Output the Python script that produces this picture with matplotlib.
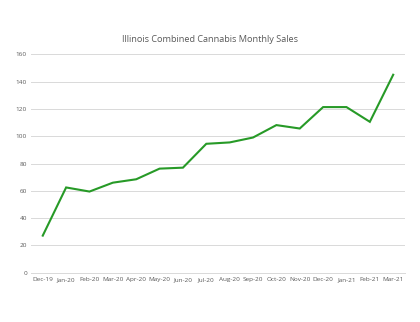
import matplotlib
matplotlib.use("Agg")
import matplotlib.pyplot as plt

months = ["Dec-19", "Jan-20", "Feb-20", "Mar-20", "Apr-20", "May-20", "Jun-20", "Jul-20",
          "Aug-20", "Sep-20", "Oct-20", "Nov-20", "Dec-20", "Jan-21", "Feb-21", "Mar-21"]
sales = [27.2, 62.5, 59.5, 66.0, 68.5, 76.3, 77.0, 94.5, 95.5, 99.1, 108.2, 105.7,
         121.4, 121.4, 110.6, 145.1]
yticks = [0, 20, 40, 60, 80, 100, 120, 140, 160]
title = "Illinois Combined Cannabis Monthly Sales"

plt.rcParams['font.family'] = ['Open Sans', 'DejaVu Sans']

fig = plt.figure(figsize=(4.2, 3.22), dpi=100)
ax = fig.add_axes([0.074, 0.153, 0.89, 0.678])
x = list(range(len(months)))
ax.plot(x, sales, color="#279a27", lw=1.5, solid_joinstyle="miter")
ax.set_xlim(-0.5, len(months) - 0.5)
ax.set_ylim(0, 160)
ax.set_yticks(yticks)
ax.set_xticks(x)
ax.set_xticklabels(months)
ax.tick_params(axis='both', length=0, labelsize=4.6, colors="#595959", pad=3)
ax.grid(axis='y', color="#d9d9d9", lw=0.7)
ax.set_axisbelow(True)
for s in ["top", "right", "left"]:
    ax.spines[s].set_visible(False)
ax.spines["bottom"].set_color("#d9d9d9")
ax.spines["bottom"].set_linewidth(0.7)
fig.text(0.5, 1 - 40 / 322, title, ha="center", va="center", fontsize=6.6, color="#595959")
fig.savefig("out.png", dpi=100)
